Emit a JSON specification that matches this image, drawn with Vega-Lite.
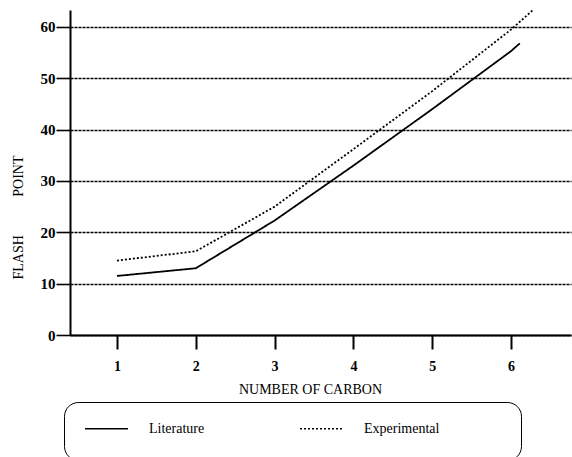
{
  "$schema": "https://vega.github.io/schema/vega-lite/v6.json",
  "width": 501,
  "height": 325,
  "autosize": {"type": "none"},
  "padding": {"left": 70, "top": 10, "right": 1, "bottom": 122},
  "background": "white",
  "config": {
    "view": {"stroke": null},
    "font": "Liberation Serif"
  },
  "data": {
    "values": [
      {"carbon": 1, "flash": 11.5, "series": "Literature"},
      {"carbon": 2, "flash": 13.0, "series": "Literature"},
      {"carbon": 3, "flash": 22.3, "series": "Literature"},
      {"carbon": 4, "flash": 33.0, "series": "Literature"},
      {"carbon": 5, "flash": 44.0, "series": "Literature"},
      {"carbon": 6, "flash": 55.3, "series": "Literature"},
      {"carbon": 6.11, "flash": 56.8, "series": "Literature"},
      {"carbon": 1, "flash": 14.5, "series": "Experimental"},
      {"carbon": 2, "flash": 16.3, "series": "Experimental"},
      {"carbon": 3, "flash": 25.0, "series": "Experimental"},
      {"carbon": 4, "flash": 36.2, "series": "Experimental"},
      {"carbon": 5, "flash": 47.5, "series": "Experimental"},
      {"carbon": 6, "flash": 59.5, "series": "Experimental"},
      {"carbon": 6.27, "flash": 63.2, "series": "Experimental"}
    ]
  },
  "mark": {"type": "line", "color": "black", "strokeWidth": 1.8, "clip": false},
  "encoding": {
    "x": {
      "field": "carbon",
      "type": "quantitative",
      "scale": {"domain": [0.404, 6.76], "nice": false, "zero": false},
      "axis": {
        "values": [1, 2, 3, 4, 5, 6],
        "format": "d",
        "grid": false,
        "domainColor": "black",
        "domainWidth": 2,
        "tickColor": "black",
        "tickWidth": 2,
        "tickSize": 14,
        "labelPadding": 10,
        "labelFont": "Liberation Serif",
        "labelFontSize": 14,
        "labelFontWeight": "bold",
        "labelColor": "black",
        "title": "NUMBER OF CARBON",
        "titleFont": "Liberation Serif",
        "titleFontSize": 14,
        "titleFontWeight": "normal",
        "titleColor": "black",
        "titlePadding": 9,
        "titleX": 240
      }
    },
    "y": {
      "field": "flash",
      "type": "quantitative",
      "scale": {"domain": [0, 63.3], "nice": false},
      "axis": {
        "values": [0, 10, 20, 30, 40, 50, 60],
        "grid": true,
        "gridColor": "black",
        "gridWidth": 1.6,
        "gridDash": [3, 1],
        "gridOpacity": 1,
        "domainColor": "black",
        "domainWidth": 2,
        "tickColor": "black",
        "tickWidth": 1.6,
        "tickSize": 14,
        "labelPadding": 1,
        "labelFont": "Liberation Serif",
        "labelFontSize": 15,
        "labelFontWeight": "bold",
        "labelColor": "black",
        "title": "FLASH\u00a0\u00a0\u00a0\u00a0\u00a0\u00a0\u00a0\u00a0\u00a0\u00a0\u00a0POINT",
        "titleFont": "Liberation Serif",
        "titleFontSize": 14,
        "titleFontWeight": "normal",
        "titleColor": "black",
        "titleAngle": -90,
        "titleBaseline": "middle",
        "titleAlign": "center",
        "titleX": -52,
        "titleY": 207
      }
    },
    "strokeDash": {
      "field": "series",
      "type": "nominal",
      "scale": {"domain": ["Literature", "Experimental"], "range": [[1, 0], [2, 2]]},
      "legend": {
        "title": "\u00a0",
        "titleOrient": "bottom",
        "titleFontSize": 14,
        "titlePadding": 6,
        "orient": "none",
        "direction": "horizontal",
        "legendX": -6,
        "legendY": 392,
        "strokeColor": "black",
        "cornerRadius": 14,
        "padding": 4,
        "symbolOffset": 16,
        "symbolType": "stroke",
        "symbolSize": 1849,
        "symbolStrokeWidth": 1.5,
        "symbolStrokeColor": "black",
        "labelFont": "Liberation Serif",
        "labelFontSize": 14,
        "labelColor": "black",
        "labelOffset": 20,
        "columnPadding": 78,
        "labelLimit": 400,
        "labelExpr": "datum.label == 'Experimental' ? 'Experimental\u2003\u2003\u2003\u2003\u2003\u2002\u200b' : datum.label"
      }
    }
  }
}
